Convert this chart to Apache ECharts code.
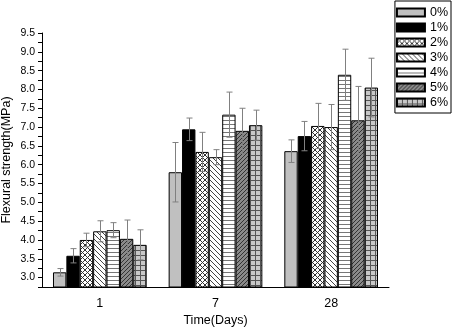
<!DOCTYPE html>
<html>
<head>
<meta charset="utf-8">
<script src="https://cdn.jsdelivr.net/npm/echarts@6/dist/echarts.min.js"></script>
<style>
  html, body { margin: 0; padding: 0; background: #fff; }
  #chart { width: 454px; height: 328px; }
</style>
</head>
<body>
<div id="chart"></div>
<script type="text/javascript">
	var days = ['1', '7', '28'];
	var dosages = ['0%', '1%', '2%', '3%', '4%', '5%', '6%'];
	// mean flexural strength per dosage (days 1, 7, 28)
	var mean0 = [3.14, 5.80, 6.36];
	var mean1 = [3.58, 6.94, 6.76];
	var mean2 = [4.00, 6.34, 7.03];
	var mean3 = [4.23, 6.20, 7.00];
	var mean4 = [4.26, 7.33, 8.39];
	var mean5 = [4.03, 6.90, 7.18];
	var mean6 = [3.87, 7.05, 8.05];
	// error bar half-lengths
	var err0 = [0.10, 0.79, 0.30];
	var err1 = [0.19, 0.30, 0.39];
	var err2 = [0.18, 0.52, 0.60];
	var err3 = [0.28, 0.20, 0.60];
	var err4 = [0.20, 0.60, 0.68];
	var err5 = [0.50, 0.60, 0.90];
	var err6 = [0.40, 0.40, 0.78];
	var yMin = 2.75, yMax = 9.5, yStep = 0.25;

	var means = [mean0, mean1, mean2, mean3, mean4, mean5, mean6];
	var errs = [err0, err1, err2, err3, err4, err5, err6];

	function tile(size, bg, draw) {
		var c = document.createElement('canvas');
		c.width = size; c.height = size;
		var ctx = c.getContext('2d');
		ctx.fillStyle = bg;
		ctx.fillRect(0, 0, size, size);
		ctx.lineWidth = 1;
		draw(ctx, size);
		return { image: c, repeat: 'repeat' };
	}
	var fills = [
		'#c0c0c0',
		'#000000',
		tile(5, '#ffffff', function (ctx, s) {
			ctx.strokeStyle = '#333';
			ctx.beginPath();
			ctx.moveTo(0, 0); ctx.lineTo(s, s);
			ctx.moveTo(s, 0); ctx.lineTo(0, s);
			ctx.stroke();
		}),
		tile(5, '#ffffff', function (ctx, s) {
			ctx.strokeStyle = '#444';
			ctx.beginPath();
			ctx.moveTo(-1, -1); ctx.lineTo(s + 1, s + 1);
			ctx.stroke();
		}),
		tile(4, '#ffffff', function (ctx, s) {
			ctx.fillStyle = '#777';
			ctx.fillRect(0, 0, s, 1);
		}),
		tile(4, '#8a8a8a', function (ctx, s) {
			ctx.strokeStyle = '#333';
			ctx.beginPath();
			ctx.moveTo(-1, s + 1); ctx.lineTo(s + 1, -1);
			ctx.stroke();
		}),
		tile(5, '#c8c8c8', function (ctx, s) {
			ctx.fillStyle = '#555';
			ctx.fillRect(0, 0, s, 1);
			ctx.fillRect(0, 0, 1, s);
		})
	];

	var series = [];
	dosages.forEach(function (name, k) {
		series.push({
			name: name,
			type: 'bar',
			data: means[k],
			barGap: 0,
			barCategoryGap: '19%',
			itemStyle: { color: fills[k], borderColor: '#000', borderWidth: 1 },
			z: 2
		});
	});

	var errData = [];
	means.forEach(function (m, k) {
		m.forEach(function (v, i) {
			errData.push([i, v, errs[k][i], k]);
		});
	});
	series.push({
		type: 'custom',
		data: errData,
		encode: { x: 0, y: 1 },
		z: 5,
		silent: true,
		renderItem: function (params, api) {
			var i = api.value(0), v = api.value(1), e = api.value(2), k = api.value(3);
			var band = api.size([1, 0])[0];
			var bw = band * 0.81 / 7;
			var c = api.coord([i, v]);
			var x = Math.round(c[0] + (k - 3) * bw) + 0.5;
			var top = api.coord([i, v + e])[1];
			var bot = api.coord([i, v - e])[1];
			var st = { stroke: '#808080', lineWidth: 1 };
			return {
				type: 'group',
				children: [
					{ type: 'line', shape: { x1: x, y1: top, x2: x, y2: bot }, style: st },
					{ type: 'line', shape: { x1: x - 3, y1: top, x2: x + 3, y2: top }, style: st },
					{ type: 'line', shape: { x1: x - 3, y1: bot, x2: x + 3, y2: bot }, style: st }
				]
			};
		}
	});

	var font = 'Liberation Sans';
	var chart = echarts.init(document.getElementById('chart'));
	var option = {
		backgroundColor: '#fff',
		animation: false,
		textStyle: { fontFamily: font, color: '#000' },
		legend: {
			data: dosages,
			orient: 'vertical',
			right: 3,
			top: 1,
			padding: [5, 3, 4, 1],
			borderColor: '#000',
			borderWidth: 1,
			icon: 'rect',
			itemWidth: 28,
			itemHeight: 8,
			itemGap: 2,
			textStyle: { fontFamily: font, fontSize: 12.5, color: '#000' }
		},
		grid: { left: 42, right: 65, top: 33, bottom: 41, containLabel: false, outerBoundsMode: 'none' },
		xAxis: [
			{
				type: 'category',
				data: days,
				axisLine: { lineStyle: { color: '#000', width: 1 } },
				axisTick: { length: 3, lineStyle: { color: '#000' } },
				axisLabel: { show: false },
				splitLine: { show: false },
				name: 'Time(Days)',
				nameLocation: 'middle',
				nameGap: 27,
				nameMoveOverlap: false,
				nameTextStyle: { fontFamily: font, fontSize: 12.5, color: '#000' }
			},
			{
				type: 'category',
				data: days,
				position: 'bottom',
				axisLine: { show: false },
				axisTick: { alignWithLabel: true, length: 5, lineStyle: { color: '#000' } },
				axisLabel: { margin: 10, fontFamily: font, fontSize: 12.5, color: '#000' },
				splitLine: { show: false }
			}
		],
		yAxis: {
			type: 'value',
			min: yMin,
			max: yMax,
			interval: yStep,
			name: 'Flexural strength(MPa)',
			nameLocation: 'middle',
			nameGap: 29,
			nameMoveOverlap: false,
			nameTextStyle: { fontFamily: font, fontSize: 12.5, color: '#000' },
			axisLine: { show: true, lineStyle: { color: '#000', width: 1 } },
			axisTick: { show: true, length: 4, lineStyle: { color: '#000' } },
			axisLabel: {
				margin: 7,
				fontFamily: font,
				fontSize: 10.5,
				color: '#000',
				formatter: function (v) {
					return Math.round(v * 4) % 2 === 0 ? v.toFixed(1) : '';
				}
			},
			splitLine: { show: false }
		},
		series: series
	};
	chart.setOption(option);
	window.onresize = function () {
		chart.resize();
	};
</script>
</body>
</html>
